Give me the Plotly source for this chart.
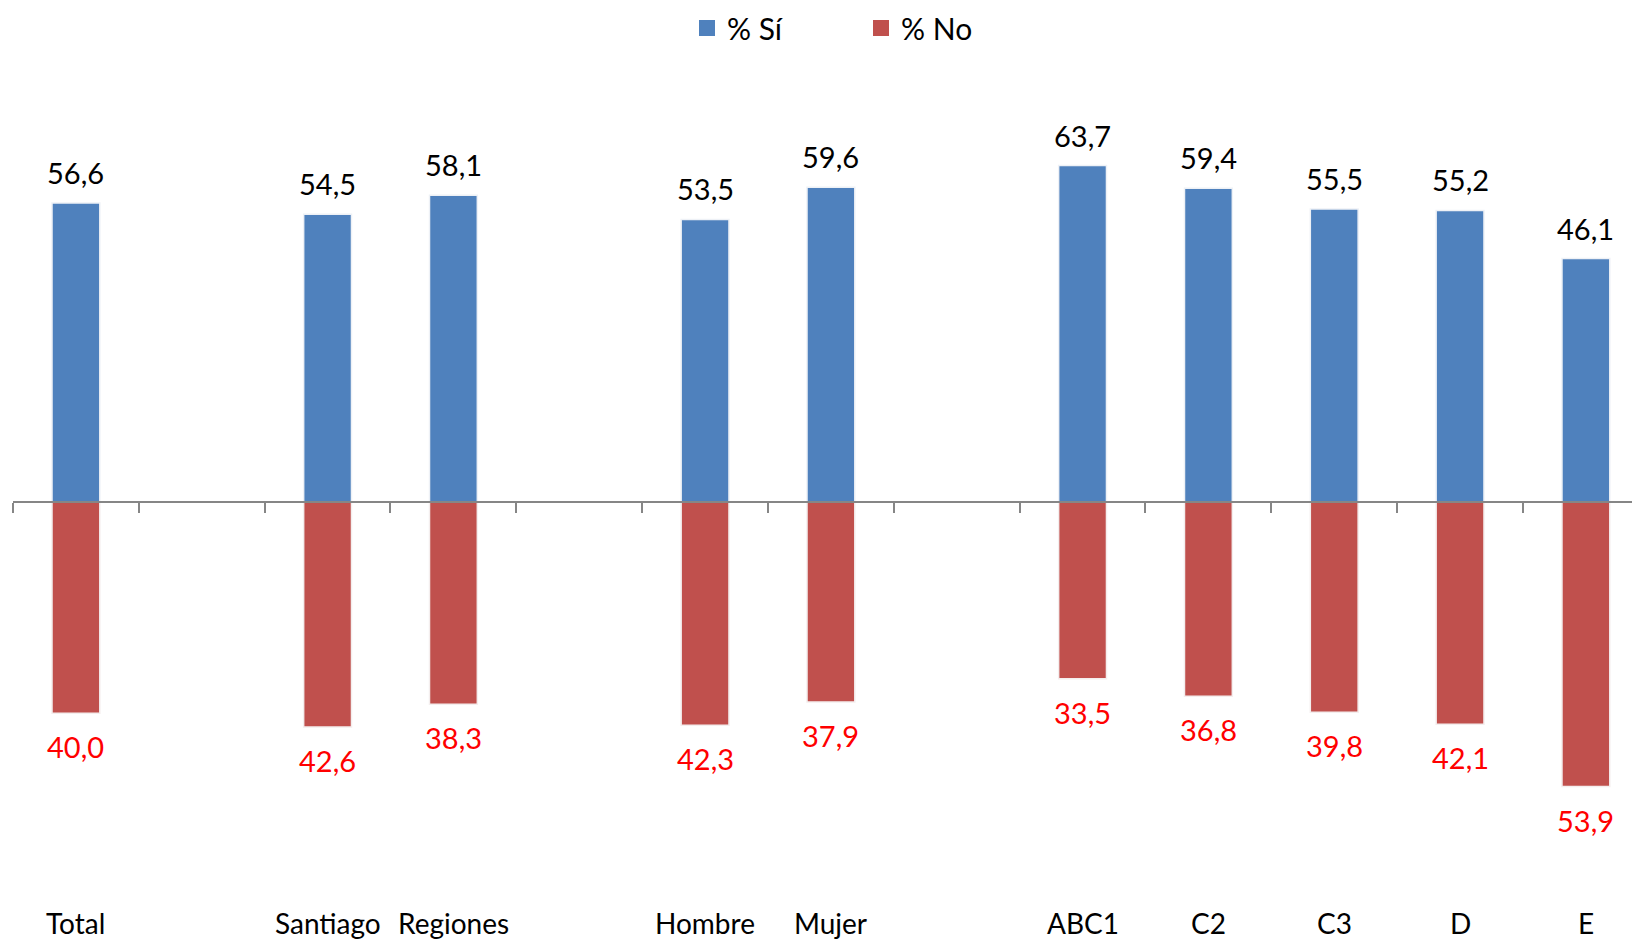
import plotly.graph_objects as go

# Data
groups = [["Total"], ["Santiago", "Regiones"], ["Hombre", "Mujer"], ["ABC1", "C2", "C3", "D", "E"]]
si_values = [56.6, 54.5, 58.1, 53.5, 59.6, 63.7, 59.4, 55.5, 55.2, 46.1]
no_values = [40.0, 42.6, 38.3, 42.3, 37.9, 33.5, 36.8, 39.8, 42.1, 53.9]
series_names = ["% Sí", "% No"]

# positions: one empty slot between groups
categories, xpos = [], []
p = 0
for g in groups:
    for c in g:
        categories.append(c)
        xpos.append(p)
        p += 1
    p += 1
n_slots = p - 1

BLUE = "#4F81BD"
RED = "#C0504D"
FONT = "Lato"

W, H = 1632, 931  # page body has an 8px margin
ymin, ymax = -67.8, 81.8

fig = go.Figure()
fig.add_trace(go.Bar(x=xpos, y=si_values, name=series_names[0], showlegend=False,
                     marker=dict(color=BLUE, line=dict(color="#eef1f6", width=1.5)),
                     width=0.38, hoverinfo="skip"))
fig.add_trace(go.Bar(x=xpos, y=[-v for v in no_values], name=series_names[1], showlegend=False,
                     marker=dict(color=RED, line=dict(color="#f4eeee", width=1.5)),
                     width=0.38, hoverinfo="skip"))
# legend entries with larger square symbols
for nm, col in zip(series_names, [BLUE, RED]):
    fig.add_trace(go.Scatter(x=[None], y=[None], mode="markers", name=nm,
                             marker=dict(symbol="square", size=20, color=col)))

ann = []
for x, v in zip(xpos, si_values):
    ann.append(dict(x=x, y=v, text=f"{v:.1f}".replace(".", ","), showarrow=False, yanchor="bottom",
                    yshift=11, font=dict(family=FONT, size=29, color="black")))
for x, v in zip(xpos, no_values):
    ann.append(dict(x=x, y=-v, text=f"{v:.1f}".replace(".", ","), showarrow=False, yanchor="top",
                    yshift=-14, font=dict(family=FONT, size=29, color="#FF0000")))
for x, c in zip(xpos, categories):
    ann.append(dict(x=x, y=0, yref="paper", text=c, showarrow=False, yanchor="middle",
                    yshift=-63, font=dict(family=FONT, size=28, color="black")))

zero_frac = -ymin / (ymax - ymin)

fig.update_layout(
    width=W, height=H,
    margin=dict(l=5, r=0, t=62, b=79, autoexpand=False),
    paper_bgcolor="white", plot_bgcolor="white",
    barmode="relative",
    showlegend=True,
    legend=dict(orientation="h", x=679 / W, xanchor="left", xref="container",
                y=1 - 20 / H, yanchor="middle", yref="container", itemsizing="trace",
                font=dict(family=FONT, size=30, color="black"), entrywidth=129, itemwidth=30),
    xaxis=dict(range=[-0.5, 12.43], tickmode="array", tickvals=[i - 0.5 for i in range(n_slots + 2)],
               showticklabels=False, ticks="outside", ticklen=10, tickwidth=2, tickcolor="#868686",
               showline=True, linecolor="#868686", linewidth=2, showgrid=False, zeroline=False,
               anchor="free", position=zero_frac),
    yaxis=dict(range=[ymin, ymax], visible=False, showgrid=False, zeroline=False),
    annotations=ann,
)

fig.write_html("out.html")
